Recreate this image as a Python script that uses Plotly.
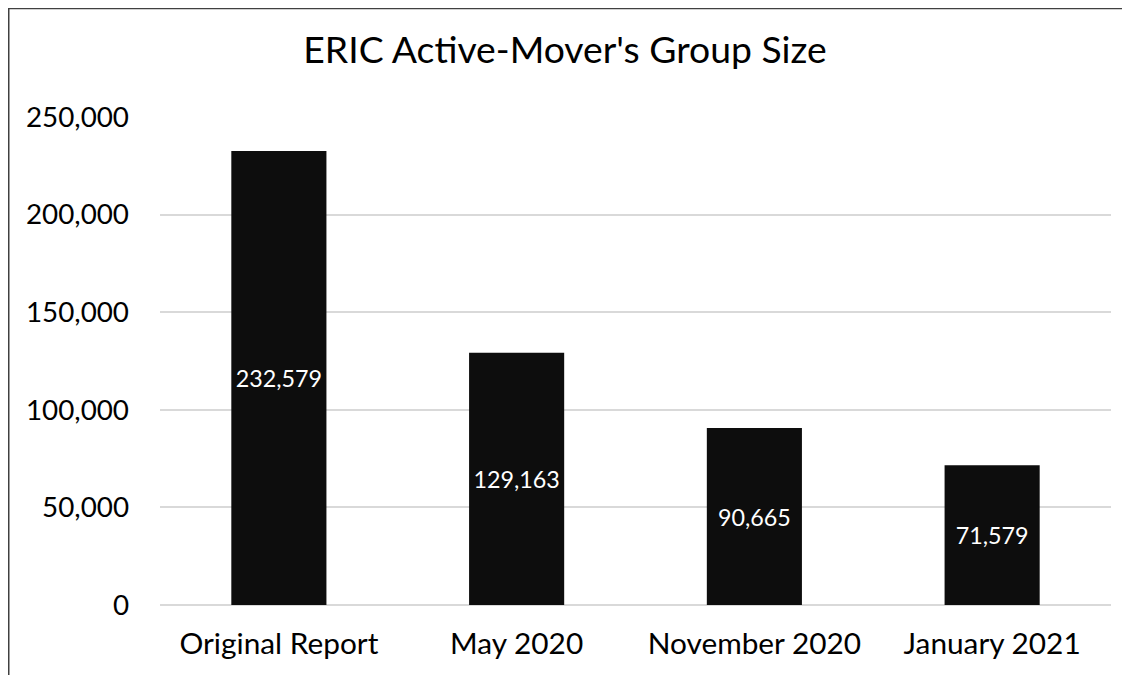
import plotly.graph_objects as go

categories = ["Original Report", "May 2020", "November 2020", "January 2021"]
values = [232579, 129163, 90665, 71579]
labels = ["232,579", "129,163", "90,665", "71,579"]
tick_vals = [0, 50000, 100000, 150000, 200000, 250000]
tick_text = ["0", "50,000", "100,000", "150,000", "200,000", "250,000"]

W, H = 1122, 667
ML, MR, MT, MB = 152, 19, 109, 70
PW, PH = W - ML - MR, H - MT - MB

def px_x(x):
    return (x - ML) / PW

def px_y(y):
    return 1 - (y - MT) / PH

FONT = "Lato"

fig = go.Figure(go.Bar(
    x=categories, y=values, text=labels,
    textposition="inside", insidetextanchor="middle",
    textfont=dict(color="white", size=23.3, family=FONT),
    marker=dict(color="#0d0d0d", line=dict(width=0)),
    width=0.4, cliponaxis=False,
))

fig.update_layout(
    width=W, height=H,
    margin=dict(l=ML, r=MR, t=MT, b=MB, autoexpand=False),
    paper_bgcolor="white", plot_bgcolor="white",
    title=dict(text="ERIC Active-Mover's Group Size", x=557 / W, xanchor="center",
               y=1 - 42 / H, yanchor="middle",
               font=dict(size=37.3, family=FONT, color="black")),
    font=dict(family=FONT, color="black"),
    showlegend=False,
    xaxis=dict(tickfont=dict(size=29.8, family=FONT, color="black"), showgrid=False,
               showline=False, ticks="", ticklabelstandoff=18, automargin=False),
    yaxis=dict(range=[0, 250000], tickvals=tick_vals, ticktext=tick_text,
               tickfont=dict(size=27.8, family=FONT, color="black"),
               showgrid=True, gridcolor="#d9d9d9", gridwidth=1.5,
               zeroline=True, zerolinecolor="#d9d9d9", zerolinewidth=1.5,
               showline=False, ticks="", ticklabelstandoff=30, automargin=False),
    shapes=[
        dict(type="line", xref="paper", yref="paper",
             x0=px_x(0), x1=px_x(W + 5), y0=px_y(0.5), y1=px_y(0.5),
             line=dict(color="#404040", width=1.5)),
        dict(type="line", xref="paper", yref="paper",
             x0=px_x(0.75), x1=px_x(0.75), y0=px_y(0), y1=px_y(H + 5),
             line=dict(color="#404040", width=1.5)),
    ],
)

fig.write_html("out.html")
